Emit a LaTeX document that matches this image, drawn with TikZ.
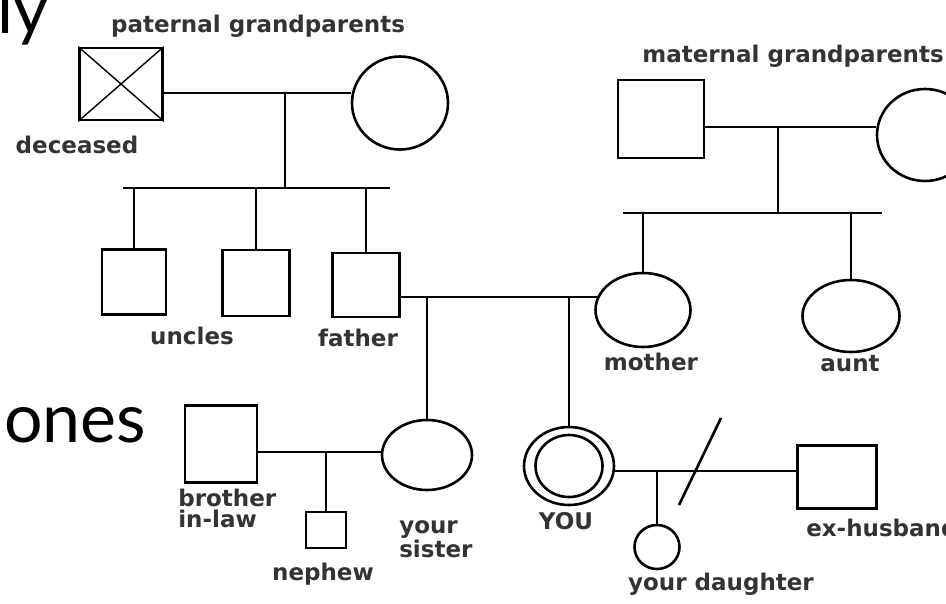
\documentclass[tikz,border=0pt]{standalone}
\usepackage{fontspec}
\setmainfont{DejaVu Sans}
\newfontfamily\bigfont{Lato}
\usetikzlibrary{shapes.geometric}
\definecolor{labelgray}{HTML}{333333}
\begin{document}
\begin{tikzpicture}[x=1pt,y=-1pt,line width=2.6pt,
  sq/.style={draw,rectangle,inner sep=0pt},
  el/.style={draw,ellipse,inner sep=0pt},
  lbl/.style={text=labelgray,font=\fontsize{23}{21}\selectfont\bfseries,inner sep=0pt},
  big/.style={font=\fontsize{68}{68}\selectfont\bigfont,inner sep=0pt}]
\useasboundingbox (0,0) rectangle (946,603);
\clip (0,0) rectangle (946,603);
\fill[white] (0,0) rectangle (946,603);

% slide text fragments
\node[big,anchor=base west] (ly) at (-4,33) {ly};
\node[big,anchor=base west] (ones) at (3,442) {ones};

% paternal grandparents
\node[sq,minimum width=83pt,minimum height=72pt] (pgf) at (121,84) {};
\draw[line width=1.4pt] (pgf.north west) -- (pgf.south east) (pgf.north east) -- (pgf.south west);
\node[el,minimum width=96pt,minimum height=93pt] (pgm) at (400,103) {};
\coordinate (pgd) at (285,93);
\coordinate (psl) at (123,188);
\coordinate (psr) at (390,188);
\draw (pgf.east |- pgd) -- (pgm.west |- pgd);
\draw (pgd) -- (pgd |- psl);
\draw (psl) -- (psr);
\node[sq,minimum width=64pt,minimum height=65pt] (u1) at (134,282) {};
\node[sq,minimum width=67pt,minimum height=66pt] (u2) at (256,283) {};
\node[sq,minimum width=67pt,minimum height=64pt] (fa) at (366,285) {};
\draw (u1.north |- psl) -- (u1.north);
\draw (u2.north |- psl) -- (u2.north);
\draw (fa.north |- psl) -- (fa.north);

% maternal grandparents
\node[sq,minimum width=86pt,minimum height=78pt] (mgf) at (661,119) {};
\node[el,minimum width=96pt,minimum height=92pt] (mgm) at (925,135) {};
\coordinate (mgd) at (778,127);
\coordinate (msl) at (623,213);
\coordinate (msr) at (882,213);
\draw (mgf.east |- mgd) -- (mgm.west |- mgd);
\draw (mgd) -- (mgd |- msl);
\draw (msl) -- (msr);
\node[el,minimum width=95pt,minimum height=74pt] (mo) at (643,310) {};
\node[el,minimum width=97pt,minimum height=72pt] (au) at (851,316) {};
\draw (mo.north |- msl) -- (mo.north);
\draw (au.north |- msl) -- (au.north);

% parents
\coordinate (fm) at (500,297);
\draw (fa.east |- fm) -- (598.5,297) coordinate (mow);
\node[el,minimum width=90pt,minimum height=70pt] (si) at (427,455) {};
\node[el,minimum width=90pt,minimum height=78pt] (you) at (569,466) {};
\node[el,minimum width=67pt,minimum height=62pt] (youin) at (569,466) {};
\draw (si.north |- fm) -- (si.north);
\draw (you.north |- fm) -- (you.north);

% sister family
\node[sq,minimum width=72pt,minimum height=77pt] (bil) at (221,444) {};
\coordinate (sd) at (326,452);
\draw (bil.east |- sd) -- (383,452);
\node[sq,minimum width=40pt,minimum height=36pt] (ne) at (326,530) {};
\draw (sd) -- (ne.north);

% your family
\node[sq,minimum width=79pt,minimum height=63pt] (exh) at (837,477) {};
\coordinate (yd) at (657,471);
\draw (613.5,471) -- (exh.west |- yd);
\node[el,minimum width=45pt,minimum height=44pt] (da) at (657,547) {};
\draw (yd) -- (da.north);
\coordinate (s1) at (679,505);
\coordinate (s2) at (721,418);
\draw (s1) -- (s2);

% labels
\node[lbl] (tpg) at (258,26) {paternal grandparents};
\node[lbl] (tdec) at (77,145) {deceased};
\node[lbl] (tmg) at (793,56) {maternal grandparents};
\node[lbl] (tun) at (192,336) {uncles};
\node[lbl] (tfa) at (358,338) {father};
\node[lbl] (tmo) at (651,362) {mother};
\node[lbl] (tau) at (850,364) {aunt};
\node[lbl,align=left,anchor=north west] (tbil) at (177,488) {brother\\in-law};
\node[lbl] (tne) at (323,574) {nephew};
\node[lbl,align=left,anchor=north west,font=\fontsize{23}{24}\selectfont\bfseries] (tsi) at (398,519) {your\\sister};
\node[lbl] (tyou) at (566,521) {YOU};
\node[lbl] (tda) at (721,584) {your daughter};
\node[lbl,anchor=west] (tex) at (805,528) {ex-husband};
\end{tikzpicture}
\end{document}
